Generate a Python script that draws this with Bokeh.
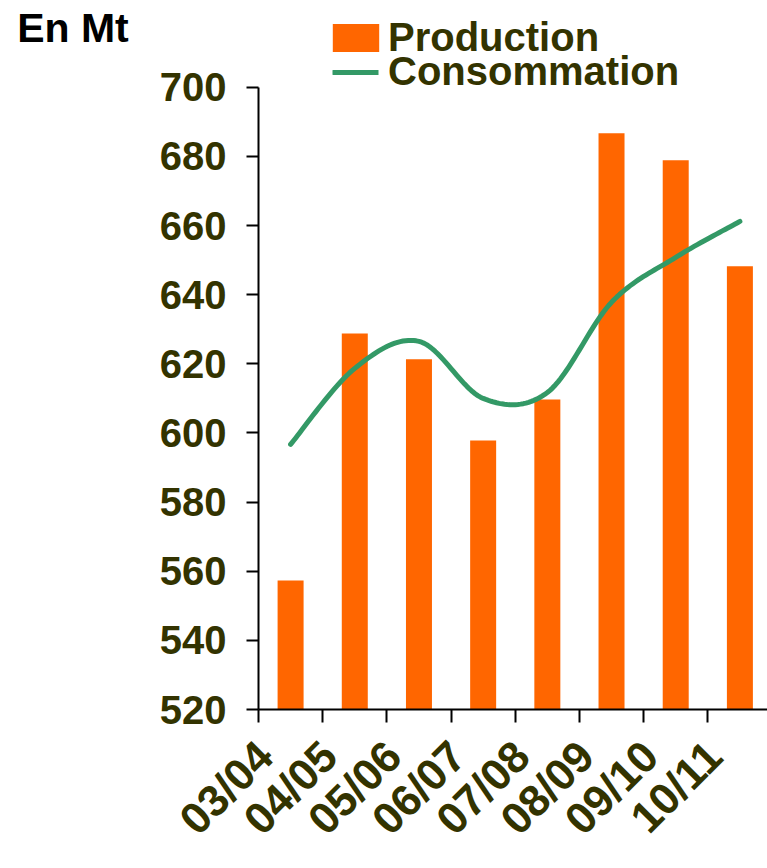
import numpy as np
from bokeh.plotting import figure
from bokeh.models import (Range1d, FixedTicker, Legend, LegendItem)
from bokeh.embed import file_html
from bokeh.resources import INLINE

# ---- data ----
seasons = ["03/04", "04/05", "05/06", "06/07", "07/08", "08/09", "09/10", "10/11"]
production = [557.3, 628.8, 621.3, 597.8, 609.7, 686.7, 678.9, 648.2]
consommation = [596.7, 618.7, 626.5, 610.0, 611.7, 637.8, 650.8, 661.2]
y_ticks = [520, 540, 560, 580, 600, 620, 640, 660, 680, 700]
unit_label = "En Mt"

ORANGE = "#FF6600"
GREEN = "#339966"
TXT = "#333300"
FONT = "Liberation Sans"

xs = np.arange(len(seasons)) + 0.5

# smoothed line (Bezier through the data points, like a spreadsheet "smoothed line")
def smooth(x, y, n=24):
    x = np.asarray(x, float); y = np.asarray(y, float)
    px = np.concatenate([[x[0]], x, [x[-1]]])
    py = np.concatenate([[y[0]], y, [y[-1]]])
    ox, oy = [], []
    for i in range(1, len(px) - 2):
        p0 = np.array([px[i - 1], py[i - 1]]); p1 = np.array([px[i], py[i]])
        p2 = np.array([px[i + 1], py[i + 1]]); p3 = np.array([px[i + 2], py[i + 2]])
        c1 = p1 + (p2 - p0) / 6.0
        c2 = p2 - (p3 - p1) / 6.0
        t = np.linspace(0, 1, n, endpoint=(i == len(px) - 3))
        b = ((1 - t) ** 3)[:, None] * p1 + (3 * (1 - t) ** 2 * t)[:, None] * c1 \
            + (3 * (1 - t) * t ** 2)[:, None] * c2 + (t ** 3)[:, None] * p2
        ox.extend(b[:, 0]); oy.extend(b[:, 1])
    return ox, oy

lx, ly = smooth(xs, consommation)

W, H = 767, 866
TOP = 8
p = figure(width=W, height=H, output_backend="svg", toolbar_location=None,
           x_range=Range1d(0, 7.93), y_range=Range1d(520, 722.8),
           min_border_left=258, min_border_right=0, min_border_top=TOP,
           min_border_bottom=H - 709)
p.outline_line_color = None
p.xgrid.visible = False
p.ygrid.visible = False
p.background_fill_color = "white"
p.border_fill_color = "white"

bars = p.vbar(x=xs, top=production, bottom=520, width=0.405,
              fill_color=ORANGE, line_color=None)
line = p.line(lx, ly, line_color=GREEN, line_width=5, line_cap="round", line_join="round")

ya = p.yaxis[0]
ya.ticker = FixedTicker(ticks=y_ticks)
ya.bounds = (520, 700)
ya.axis_line_width = 2
ya.axis_line_color = "black"
ya.major_tick_out = 12
ya.major_tick_in = 0
ya.major_tick_line_width = 2
ya.minor_tick_line_color = None
ya.major_label_standoff = 20
ya.major_label_text_font = FONT
ya.major_label_text_font_style = "bold"
ya.major_label_text_font_size = "40px"
ya.major_label_text_color = TXT
# unit label: horizontal, at the top end of the axis (leading newline pushes it down)
ya.axis_label = "\n" + unit_label
ya.axis_label_orientation = "horizontal"
ya.axis_label_align = "end"
ya.axis_label_standoff = 28
ya.axis_label_text_font = FONT
ya.axis_label_text_font_style = "bold"
ya.axis_label_text_font_size = "41px"
ya.axis_label_text_line_height = 0.85
ya.axis_label_text_color = "black"

label_pos = [float(x - 0.4) for x in xs]
xa = p.xaxis[0]
xa.ticker = FixedTicker(ticks=label_pos, minor_ticks=list(range(len(seasons) + 1)))
xa.major_label_overrides = {x: s for x, s in zip(label_pos, seasons)}
xa.axis_line_width = 2
xa.axis_line_color = "black"
xa.major_tick_out = 0
xa.major_tick_in = 0
xa.major_tick_line_color = None
xa.minor_tick_out = 13
xa.minor_tick_in = 0
xa.minor_tick_line_width = 2
xa.minor_tick_line_color = "black"
xa.major_label_orientation = np.pi / 4
xa.major_label_standoff = 26
xa.major_label_text_font = FONT
xa.major_label_text_font_style = "bold"
xa.major_label_text_font_size = "44px"
xa.major_label_text_color = TXT

common = dict(location="top_center", orientation="vertical", padding=0,
              label_text_font=FONT, label_text_font_style="bold",
              label_text_font_size="40px", label_text_color=TXT,
              border_line_color=None, background_fill_alpha=0)
leg1 = Legend(items=[LegendItem(label="Production", renderers=[bars])],
              margin=7, glyph_width=58, glyph_height=35, label_standoff=4,
              label_width=311, **common)
leg2 = Legend(items=[LegendItem(label="Consommation", renderers=[line])],
              margin=41, glyph_width=46, glyph_height=28, label_standoff=10,
              label_width=305, **common)
p.add_layout(leg1)
p.add_layout(leg2)

open("out.html", "w").write(file_html(p, INLINE))
